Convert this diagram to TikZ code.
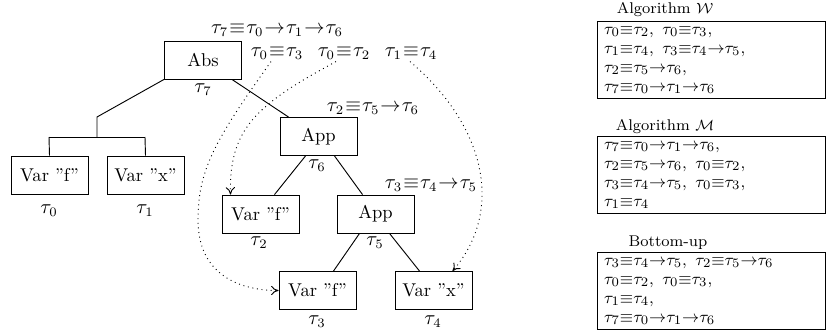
\documentclass[tikz,border=0pt]{standalone}
\usetikzlibrary{calc,arrows.meta}
\newcommand{\eqv}{\mskip1mu{\equiv}\mskip1mu}
\newcommand{\arr}{\mskip1mu{\rightarrow}\mskip1mu}
\newcommand{\teqv}{{\equiv}}
\newcommand{\tarr}{{\rightarrow}}
\begin{document}
\begin{tikzpicture}[x=0.54pt,y=-0.54pt,
  treebox/.style={draw,line width=0.5pt,minimum width=41.6pt,minimum height=20.5pt,inner sep=0pt,font=\fontsize{10}{12}\selectfont},
  tlab/.style={inner sep=0pt,font=\fontsize{10.5}{12}\selectfont},
  edge/.style={line width=0.5pt},
  dots/.style={dotted,line width=0.5pt,-{To[length=4pt,width=5pt]}},
  listbox/.style={draw,line width=0.5pt,anchor=north west,minimum width=123.2pt,minimum height=41.6pt,inner xsep=3.5pt,inner ysep=0pt,text width=116pt,align=left,font=\fontsize{9.3}{10.26}\selectfont},
  ttl/.style={inner sep=0pt,font=\fontsize{8.4}{10}\selectfont}]
\useasboundingbox (0,0) rectangle (827,331);
% tree nodes
\node[treebox] (abs) at (203,60) {Abs};
\node[treebox] (vf0) at (49.5,175) {Var "f"};
\node[treebox] (vx1) at (145.5,175) {Var "x"};
\node[treebox] (app6) at (318.5,136.5) {App};
\node[treebox] (vf2) at (260.5,214) {Var "f"};
\node[treebox] (app5) at (375.5,214) {App};
\node[treebox] (vf3) at (317.5,290.5) {Var "f"};
\node[treebox] (vx4) at (433.5,290.5) {Var "x"};
% type labels
\node[tlab] (t7) at (203,90) {$\tau_7$};
\node[tlab] (t0) at (49,211) {$\tau_0$};
\node[tlab] (t1) at (145,211) {$\tau_1$};
\node[tlab] (t6) at (317,166) {$\tau_6$};
\node[tlab] (t2) at (259,243) {$\tau_2$};
\node[tlab] (t5) at (375,243) {$\tau_5$};
\node[tlab] (t3) at (317,322) {$\tau_3$};
\node[tlab] (t4) at (433,322) {$\tau_4$};
% constraint labels
\node[tlab] (c7) at (277,30) {$\tau_7\eqv\tau_0\arr\tau_1\arr\tau_6$};
\node[tlab] (c03) at (277,53) {$\tau_0\eqv\tau_3$};
\node[tlab] (c02) at (344,53) {$\tau_0\eqv\tau_2$};
\node[tlab] (c14) at (411,53) {$\tau_1\eqv\tau_4$};
\node[tlab] (c25) at (373,108) {$\tau_2\eqv\tau_5\arr\tau_6$};
\node[tlab] (c34) at (431,185) {$\tau_3\eqv\tau_4\arr\tau_5$};
% tree edges
\coordinate (j1) at (97,117);
\coordinate (j2) at (97,137);
\coordinate (j3) at (49,137);
\coordinate (j4) at (145,137);
\draw[edge] (abs.south west) -- (j1) -- (j2);
\draw[edge] (j3) -- (j4);
\draw[edge] (j3) -- (vf0.north);
\draw[edge] (j4) -- (vx1.north);
\draw[edge] ($(abs.south east)+(-10,0)$) -- ($(app6.north west)+(9,0)$);
\draw[edge] ($(app6.south west)+(26,0)$) -- ($(vf2.north)+(14,0)$);
\draw[edge] ($(app6.south west)+(55,0)$) -- ($(app5.north west)+(26,0)$);
\draw[edge] ($(app5.south west)+(23,0)$) -- ($(vf3.north)+(16,0)$);
\draw[edge] ($(app5.south west)+(53,0)$) -- ($(vx4.north west)+(25,0)$);
% dotted arrows
\draw[dots] ($(c03.south)+(-6,2)$) .. controls (215,140) and (198,170) .. (198,220)
   .. controls (198,275) and (240,290.5) .. (vf3.west);
\draw[dots] ($(c02.south)+(-8,2)$) .. controls (255,105) and (229,130) .. ($(vf2.north west)+(9,0)$);
\draw[dots] ($(c14.south)+(-1,2)$) .. controls (485,125) and (505,210) .. ($(vx4.north west)+(58,0)$);
% right panel
\node[ttl] (tw) at (665,10) {Algorithm $\mathcal{W}$};
\node[listbox] (bw) at (597,21) {$\tau_0\teqv\tau_2,\ \tau_0\teqv\tau_3,$\\ $\tau_1\teqv\tau_4,\ \tau_3\teqv\tau_4\tarr\tau_5,$\\ $\tau_2\teqv\tau_5\tarr\tau_6,$\\ $\tau_7\teqv\tau_0\tarr\tau_1\tarr\tau_6$};
\node[ttl] (tm) at (665,127) {Algorithm $\mathcal{M}$};
\node[listbox] (bm) at (597,136) {$\tau_7\teqv\tau_0\tarr\tau_1\tarr\tau_6,$\\ $\tau_2\teqv\tau_5\tarr\tau_6,\ \tau_0\teqv\tau_2,$\\ $\tau_3\teqv\tau_4\tarr\tau_5,\ \tau_0\teqv\tau_3,$\\ $\tau_1\teqv\tau_4$};
\node[ttl] (tb) at (668,243) {Bottom-up};
\node[listbox] (bb) at (597,252) {$\tau_3\teqv\tau_4\tarr\tau_5,\ \tau_2\teqv\tau_5\tarr\tau_6$\\ $\tau_0\teqv\tau_2,\ \tau_0\teqv\tau_3,$\\ $\tau_1\teqv\tau_4,$\\ $\tau_7\teqv\tau_0\tarr\tau_1\tarr\tau_6$};
\end{tikzpicture}
\end{document}
